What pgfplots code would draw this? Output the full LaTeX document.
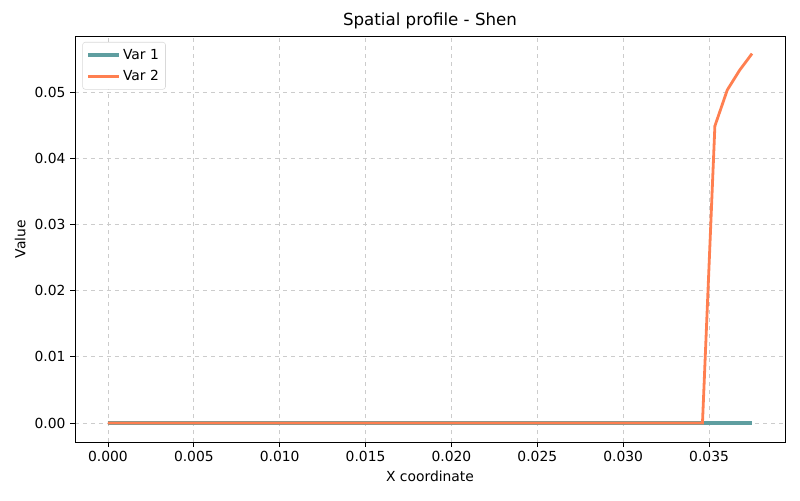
\documentclass[border=0pt]{standalone}
\usepackage{pgfplots}
\pgfplotsset{compat=1.18}
\usepackage{fontspec}
\setmainfont{DejaVu Sans}
\definecolor{varone}{HTML}{5F9EA0}
\definecolor{vartwo}{HTML}{FF7F50}
\begin{document}
\begin{tikzpicture}
\begin{axis}[
  at={(0,0)}, anchor=south west,
  scale only axis, width=532.5pt, height=304.5pt,
  xmin=-0.00192, xmax=0.03942, ymin=-0.00287, ymax=0.05846,
  xtick={0,0.005,0.01,0.015,0.02,0.025,0.03,0.035},
  ytick={0,0.01,0.02,0.03,0.04,0.05},
  xticklabels={0.000,0.005,0.010,0.015,0.020,0.025,0.030,0.035},
  yticklabels={0.00,0.01,0.02,0.03,0.04,0.05},
  scaled ticks=false,
  tick align=outside, tick pos=left,
  major tick length=3.6pt,
  every tick/.style={black, line width=0.6pt},
  ticklabel style={font=\fontsize{10.4}{12}\selectfont},
  grid=major,
  grid style={dashed, gray!40, line width=0.6pt},
  axis line style={line width=0.6pt},
  title={Spatial profile - Shen},
  title style={font=\fontsize{12.5}{14}\selectfont, yshift=-4pt},
  xlabel={X coordinate}, ylabel={Value},
  label style={font=\fontsize{10.4}{12}\selectfont},
  legend style={at={(rel axis cs:0,1)}, anchor=north west, xshift=5.5pt, yshift=-4.5pt,
    font=\fontsize{10.4}{12}\selectfont, draw=gray!30, rounded corners=2pt,
    inner xsep=3pt, inner ysep=3pt, row sep=3pt},
  legend image code/.code={\draw[#1] (0pt,0pt) -- (23pt,0pt);},
  legend cell align=left,
]
\addplot[draw=varone, line width=2.3pt] coordinates {(0,0) (0.034615,0) (0.035337,0) (0.036058,0) (0.03678,0) (0.0375,0)};
\addlegendentry{Var 1}
\addplot[draw=vartwo, line width=2.1pt] coordinates {(0,0) (0.034615,0) (0.035337,0.04486) (0.036058,0.0503) (0.03678,0.0533) (0.0375,0.0558)};
\addlegendentry{Var 2}
\end{axis}
\pgfresetboundingbox
\path[use as bounding box] (-56.25pt,-43.5pt) rectangle (543.75pt,331.5pt);
\end{tikzpicture}
\end{document}
